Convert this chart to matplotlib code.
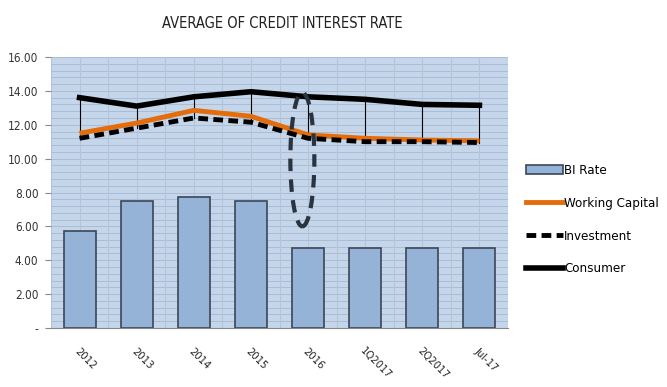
import matplotlib
matplotlib.use("Agg")
import matplotlib.pyplot as plt
from matplotlib import font_manager as fm
from matplotlib.patches import Ellipse, Patch
from matplotlib.lines import Line2D
import numpy as np

categories = ["2012", "2013", "2014", "2015", "2016", "1Q2017", "2Q2017", "Jul-17"]
bi_rate = [5.75, 7.50, 7.75, 7.50, 4.75, 4.75, 4.75, 4.75]
working_capital = [11.5, 12.1, 12.85, 12.5, 11.4, 11.2, 11.1, 11.05]
investment = [11.2, 11.8, 12.4, 12.15, 11.2, 11.0, 11.0, 10.95]
consumer = [13.6, 13.1, 13.65, 13.95, 13.65, 13.5, 13.2, 13.15]
yticks = [0, 2, 4, 6, 8, 10, 12, 14, 16]
ytick_labels = ["-", "2.00", "4.00", "6.00", "8.00", "10.00", "12.00", "14.00", "16.00"]

names = {f.name for f in fm.fontManager.ttflist}
if "Liberation Sans Narrow" in names:
    FONT = dict(family="Liberation Sans Narrow")
else:
    FONT = dict(family="DejaVu Sans", stretch="condensed")

fig = plt.figure(figsize=(6.67, 3.87), dpi=100)
ax = fig.add_axes([51/667, 1 - 328/387, (508-51)/667, (328-57)/387])

x = np.arange(len(categories))
bg = "#c6d6ea"
ax.set_facecolor(bg)
ax.set_xlim(-0.5, len(categories) - 0.5)
ax.set_ylim(0, 16)

# grid
for yy in np.arange(0, 16.01, 0.4):
    ax.axhline(yy, color="#a9bdd6", lw=0.7, zorder=0.5)
for xx in np.arange(-0.5, len(categories) - 0.49, 0.5):
    ax.axvline(xx, color="#b4c4d8", lw=0.8, zorder=0.5)

ax.bar(x, bi_rate, width=0.56, color="#95b3d7", edgecolor="#3b4658", lw=1.2, zorder=2)

# high-low lines
for xi, hi, lo in zip(x, consumer, investment):
    ax.plot([xi, xi], [lo, hi], color="black", lw=0.8, zorder=3)

DASH = (0, (2.0, 1.1))
ax.plot(x, working_capital, color="#e46c0a", lw=3.5, zorder=4, solid_capstyle="butt")
ax.plot(x, investment, color="black", lw=3.5, ls=DASH, zorder=5)
ax.plot(x, consumer, color="black", lw=4, zorder=6)

# dashed ellipse annotation around 2016
ell = Ellipse((3.9, 9.95), 0.42, 7.9, fill=False, edgecolor="#2a3340",
              lw=3, ls=(0, (3, 2)), zorder=7)
ax.add_patch(ell)

for s in ["left", "right", "top"]:
    ax.spines[s].set_visible(False)
ax.spines["bottom"].set_color("#888888")

ax.set_yticks(yticks)
ax.set_yticklabels(ytick_labels, fontsize=8.5, color="#333333", **FONT)
ax.tick_params(axis="y", length=4, color="#888888", pad=5)
ax.set_xticks(x)
ax.set_xticklabels(categories, rotation=-45, ha="left", va="top", rotation_mode="anchor",
                   fontsize=8, color="#222222", **FONT)
ax.tick_params(axis="x", length=0, pad=13)

fig.text(282/667, 1 - 24/387, "AVERAGE OF CREDIT INTEREST RATE", ha="center", va="center",
         fontsize=10.5, color="#222222", **FONT)

handles = [Patch(facecolor="#95b3d7", edgecolor="#3b4658", lw=1.2),
           Line2D([], [], color="#e46c0a", lw=3.5),
           Line2D([], [], color="black", lw=3.5, ls=DASH),
           Line2D([], [], color="black", lw=4)]
labels = ["BI Rate", "Working Capital", "Investment", "Consumer"]
fig.legend(handles, labels, loc="upper left", bbox_to_anchor=(526/667, 1 - 164/387),
           frameon=False, prop=fm.FontProperties(size=9.5, **FONT),
           handlelength=2.8, handletextpad=0.1, labelspacing=1.5, borderaxespad=0,
           borderpad=0)

fig.savefig("out.png", dpi=100)
